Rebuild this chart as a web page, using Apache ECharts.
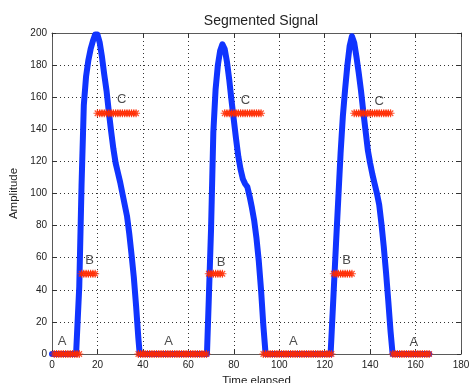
<!DOCTYPE html>
<html><head><meta charset="utf-8">
<script src="https://cdn.jsdelivr.net/npm/echarts@6/dist/echarts.min.js"></script>
<style>html,body{margin:0;padding:0;background:#fff}#c{width:469px;height:383px}</style>
</head><body><div id="c"></div>
<script>
// Blue signal (Time elapsed, Amplitude)
var signalX = [0,10.6,12,13,14,15,16,17,18,19,20,21,22,23,24,25,26,27,28,29,30,31,32,33,34,35,36,37,38,38.6,
  68.2,69,70,71,72,73,74,75,76,77,78,79,80,81,82,83,84,85,86,87,88,89,90,91,92,93,94,
  122.6,123,124,125,126,127,128,129,130,131,132,133,134,135,136,137,138,139,140,141,142,143,144,145,146,147,148,149,149.9,166];
var signalY = [0,0,42,105,155,173,183,190,195,199,199,194,185,174,164,151,139,128,119,113,107,100,93,86,75,62,48,30,10,0,
  0,34,78,138,165,180,189,193,190,182,171,158,146,134,123,115,109,106,104,98,91,83,72,58,40,18,0,
  0,11,40,69,97,125,148,165,180,192,198,194,185,175,164,151,139,127,119,112,106,100,93,81,67,51,33,14,0,0];

// Segment markers (sample indices)
var segAX = [1,2,3,4,5,6,7,8,9,10,11,12,
  38,39,40,41,42,43,44,45,46,47,48,49,50,51,52,53,54,55,56,57,58,59,60,61,62,63,64,65,66,67,68,
  93,94,95,96,97,98,99,100,101,102,103,104,105,106,107,108,109,110,111,112,113,114,115,116,117,118,119,120,121,122,123,
  150,151,152,153,154,155,156,157,158,159,160,161,162,163,164,165,166];
var segALevel = 0;
var segBX = [13,14,15,16,17,18,19, 69,70,71,72,73,74,75, 124,125,126,127,128,129,130,131,132];
var segBLevel = 50;
var segCX = [20,21,22,23,24,25,26,27,28,29,30,31,32,33,34,35,36,37,
  76,77,78,79,80,81,82,83,84,85,86,87,88,89,90,91,92,
  133,134,135,136,137,138,139,140,141,142,143,144,145,146,147,148,149];
var segCLevel = 150;

// Segment labels
var labelText = ['A','A','A','A','B','B','B','C','C','C'];
var labelX = [4.4,51.3,106.2,159.2,16.5,74.4,129.7,30.7,85.1,144];
var labelY = [7.7,7.7,7.7,7.2,58,57,58,158.7,158,157.6];

var xTicks = [0,20,40,60,80,100,120,140,160,180];
var yTicks = [0,20,40,60,80,100,120,140,160,180,200];

function pairs(xs, ys){ return xs.map(function(x,i){ return [x, ys[i]]; }); }
function level(xs, v){ return xs.map(function(x){ return [x, v]; }); }

var FONT = 'Liberation Sans, Arial, Helvetica, sans-serif';
var AX = '#5a5a5a';
var star = 'path://M5,0L5,10M0,5L10,5M1.6,1.6L8.4,8.4M8.4,1.6L1.6,8.4';
var red = '#ff2a00';

var chart = echarts.init(document.getElementById('c'), null, {renderer:'canvas'});
var markerSeries = function(data){
  return {type:'scatter', data:data, symbol:star, symbolSize:8, xAxisIndex:0, yAxisIndex:0,
    itemStyle:{color:'none', borderColor:red, borderWidth:1.2}, z:5, silent:true};
};
chart.setOption({
  animation:false,
  backgroundColor:'#fff',
  title:{text:'Segmented Signal', left:256, top:9, textAlign:'center',
    textStyle:{fontFamily:FONT, fontSize:14, fontWeight:'normal', color:'#222'}},
  grid:{left:52, right:8, top:33, bottom:29, containLabel:false, outerBoundsMode:'none'},
  xAxis:[{type:'value', min:0, max:180, interval:20, position:'bottom',
      name:'Time elapsed', nameLocation:'middle', nameGap:21,
      nameTextStyle:{fontFamily:FONT, fontSize:11.5, color:'#222'},
      axisLine:{show:true, onZero:false, lineStyle:{color:AX, width:1}},
      axisTick:{show:true, inside:true, length:4, lineStyle:{color:'#333'}},
      axisLabel:{fontFamily:FONT, fontSize:10, color:'#222', margin:6,
        formatter:function(v){ return xTicks.indexOf(v)>=0 ? String(v) : ''; }},
      splitLine:{show:true, lineStyle:{color:'#333', type:[1,3], width:1}}},
    {type:'value', min:0, max:180, interval:20, position:'top',
      axisLine:{show:true, onZero:false, lineStyle:{color:AX, width:1}},
      axisTick:{show:true, inside:true, length:4, lineStyle:{color:'#333'}},
      axisLabel:{show:false}, splitLine:{show:false}}],
  yAxis:[{type:'value', min:0, max:200, interval:20, position:'left',
      name:'Amplitude', nameLocation:'middle', nameGap:31, nameRotate:90,
      nameTextStyle:{fontFamily:FONT, fontSize:11.5, color:'#222'},
      axisLine:{show:true, onZero:false, lineStyle:{color:AX, width:1}},
      axisTick:{show:true, inside:true, length:4, lineStyle:{color:'#333'}},
      axisLabel:{fontFamily:FONT, fontSize:10, color:'#222', margin:5,
        formatter:function(v){ return yTicks.indexOf(v)>=0 ? String(v) : ''; }},
      splitLine:{show:true, lineStyle:{color:'#333', type:[1,3], width:1}}},
    {type:'value', min:0, max:200, interval:20, position:'right',
      axisLine:{show:true, onZero:false, lineStyle:{color:AX, width:1}},
      axisTick:{show:true, inside:true, length:4, lineStyle:{color:'#333'}},
      axisLabel:{show:false}, splitLine:{show:false}}],
  series:[
    {type:'line', data:pairs(signalX, signalY), showSymbol:false, symbol:'none',
      lineStyle:{color:'#1034ff', width:6, join:'round', cap:'round'}, z:3, silent:true},
    markerSeries(level(segAX, segALevel)),
    markerSeries(level(segBX, segBLevel)),
    markerSeries(level(segCX, segCLevel)),
    {type:'scatter', symbol:'rect', symbolSize:1, z:6, silent:true,
      data:labelX.map(function(x,i){ return {name:labelText[i], value:[x, labelY[i]]}; }),
      itemStyle:{color:'rgba(0,0,0,0)'},
      label:{show:true, position:[0.5,0.5], align:'center', verticalAlign:'middle',
        formatter:'{b}', fontFamily:FONT, fontSize:13, color:'#222'}}
  ]
});
</script></body></html>
